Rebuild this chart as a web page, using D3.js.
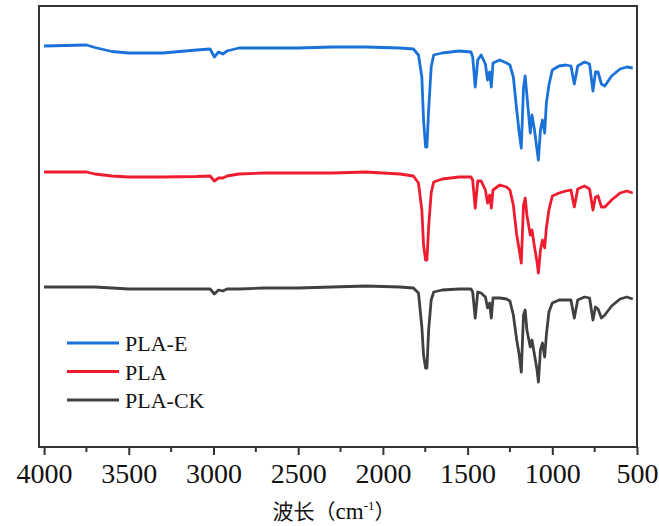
<!DOCTYPE html>
<html>
<head>
<meta charset="utf-8">
<script src="https://cdn.jsdelivr.net/npm/d3@7"></script>
<style>
  body { margin: 0; background: #fff; }
  svg { display: block; }
  .serif { font-family: 'Liberation Serif', 'DejaVu Serif', serif; }
  .cjk { font-family: 'Noto Sans CJK SC', sans-serif; }
</style>
</head>
<body>
<svg id="chart"></svg>
<script>
// wavenumbers (cm-1), shared by the three spectra
const wavenumbers = [4000, 3750, 3700, 3600, 3500, 3300, 3100, 3020, 2995, 2970, 2945, 2920, 2850, 2700, 2500, 2300, 2100, 1900,
  1820, 1790, 1770, 1760, 1748, 1740, 1730, 1715, 1700, 1650, 1550, 1480, 1470, 1455, 1440, 1420, 1395, 1382, 1370, 1360, 1350,
  1310, 1270, 1250, 1230, 1210, 1195, 1183, 1170, 1160, 1150, 1130, 1120, 1105, 1090, 1082, 1070, 1058, 1045, 1035, 1020, 1000,
  960, 920, 890, 870, 850, 810, 780, 760, 745, 730, 710, 690, 650, 600, 560, 525];

// offset transmittance (a.u.)
const plaE = [401, 402, 399.5, 395.5, 394, 394, 397, 398, 390, 395, 393, 396, 399, 399, 399, 400, 400, 399,
  398, 392, 370, 327, 300, 300, 337, 380, 392, 394, 396, 395, 390, 360, 387, 392, 383, 367, 375, 360, 384,
  387, 384, 382, 370, 337, 314, 299, 359, 371, 352, 314, 332, 317, 297, 287, 317, 327, 314, 344, 362, 377,
  381, 382, 381, 363, 381, 385, 383, 356, 375, 375, 363, 361, 371, 378, 380, 379];

const pla = [275, 275, 273, 271, 270, 270, 270.5, 271, 266, 269, 269, 271, 273, 274, 274, 274, 275, 273,
  271, 264, 237, 202, 187, 187, 220, 254, 265, 268, 270, 270, 267, 239, 266, 266, 257, 244, 252, 239, 257,
  262, 260, 257, 242, 212, 197, 184, 242, 249, 232, 212, 217, 200, 185, 174, 197, 207, 199, 219, 237, 251,
  254, 256, 257, 240, 258, 261, 258, 237, 250, 251, 240, 240, 247, 254, 256, 254];

const plaCK = [160, 160, 160, 159, 158, 158, 158, 158, 153, 157, 156, 158, 158, 159, 159, 160, 161, 160,
  159, 154, 120, 92, 79, 79, 117, 147, 155, 157, 158, 158, 155, 129, 155, 154, 150, 139, 144, 129, 149,
  149, 148, 146, 132, 107, 92, 75, 132, 137, 117, 100, 107, 92, 77, 65, 97, 104, 90, 112, 135, 144,
  147, 147, 147, 129, 147, 150, 149, 127, 140, 138, 129, 132, 141, 148, 150, 148];

const seriesNames = ['PLA-E', 'PLA', 'PLA-CK'];
const seriesColors = ['#1a72d8', '#ee1c2e', '#404040'];
const majorTicks = [4000, 3500, 3000, 2500, 2000, 1500, 1000, 500];
const minorTicks = [3750, 3250, 2750, 2250, 1750, 1250, 750];

const width = 659, height = 526;
const box = { left: 39, right: 637, top: 6, bottom: 447 };

const svg = d3.select('#chart')
  .attr('width', width)
  .attr('height', height);

const x = d3.scaleLinear().domain([4030, 500]).range([box.left, box.right]);
const y = d3.scaleLinear().domain([0, 441]).range([box.bottom, box.top]);

const series = [plaE, pla, plaCK].map((vals, i) => ({
  name: seriesNames[i],
  color: seriesColors[i],
  points: wavenumbers.map((w, j) => ({ w, v: vals[j] }))
}));

const line = d3.line()
  .x(d => x(d.w))
  .y(d => y(d.v));

// spectra
svg.append('g')
  .selectAll('path')
  .data(series)
  .join('path')
  .attr('fill', 'none')
  .attr('stroke', d => d.color)
  .attr('stroke-width', 2.8)
  .attr('stroke-linejoin', 'round')
  .attr('d', d => line(d.points));

// frame
svg.append('rect')
  .attr('x', box.left)
  .attr('y', box.top)
  .attr('width', box.right - box.left)
  .attr('height', box.bottom - box.top)
  .attr('fill', 'none')
  .attr('stroke', '#333')
  .attr('stroke-width', 2);

// bottom axis
const xAxis = d3.axisBottom(x)
  .tickValues(majorTicks)
  .tickFormat(d3.format('d'))
  .tickSizeInner(8)
  .tickSizeOuter(0)
  .tickPadding(8);

const gx = svg.append('g')
  .attr('transform', `translate(0,${box.bottom})`)
  .call(xAxis)
  .attr('font-family', null);
gx.select('.domain').remove();
gx.selectAll('.tick line').attr('stroke', '#333').attr('stroke-width', 2);
gx.selectAll('.tick text')
  .attr('class', 'serif')
  .attr('fill', '#111')
  .attr('font-size', 28)
  .attr('dy', '0.71em');

svg.append('g')
  .selectAll('line')
  .data(minorTicks)
  .join('line')
  .attr('x1', d => x(d))
  .attr('x2', d => x(d))
  .attr('y1', box.bottom)
  .attr('y2', box.bottom + 5)
  .attr('stroke', '#333')
  .attr('stroke-width', 2);

// axis title
const title = svg.append('text')
  .attr('class', 'serif')
  .attr('x', 334)
  .attr('y', 519)
  .attr('text-anchor', 'middle')
  .attr('fill', '#111')
  .attr('font-size', 23);
title.append('tspan').attr('class', 'cjk').attr('font-size', 21).text('波长（');
title.append('tspan').text('cm');
title.append('tspan').attr('font-size', 13).attr('dy', -9).text('-1');
title.append('tspan').attr('class', 'cjk').attr('dy', 9).attr('font-size', 21).text('）');

// legend
const legend = svg.append('g')
  .selectAll('g')
  .data(series)
  .join('g')
  .attr('transform', (d, i) => `translate(67,${343 + i * 28.5})`);

legend.append('line')
  .attr('x1', 0)
  .attr('x2', 52)
  .attr('stroke', d => d.color)
  .attr('stroke-width', 2.8);

legend.append('text')
  .attr('class', 'serif')
  .attr('x', 58)
  .attr('y', 8)
  .attr('fill', '#111')
  .attr('font-size', 22)
  .text(d => d.name);
</script>
</body>
</html>
